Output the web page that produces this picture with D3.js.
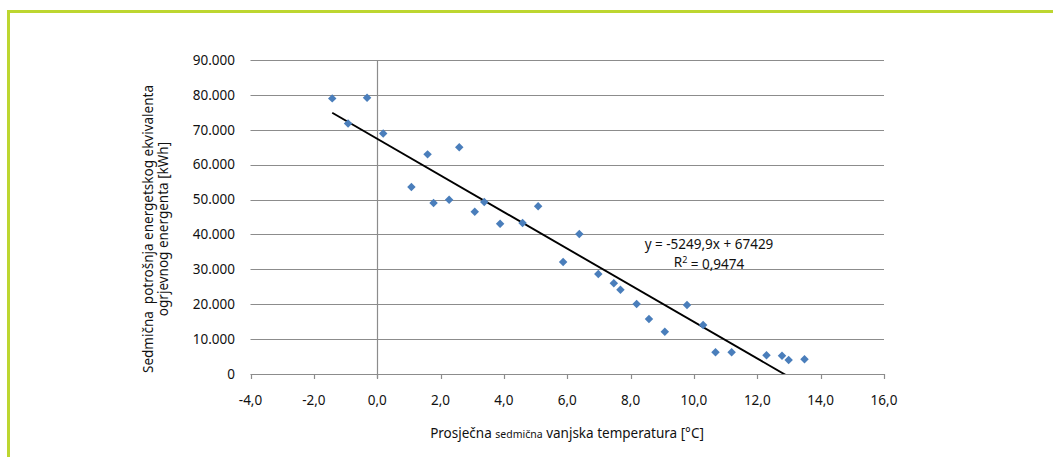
<!DOCTYPE html>
<html>
<head>
<meta charset="utf-8">
<script src="https://cdn.jsdelivr.net/npm/d3@7"></script>
<style>
  body { margin: 0; background: #fff; }
  text { font-family: "Noto Sans", "Open Sans", sans-serif; fill: #111; }
</style>
</head>
<body>
<div id="chart"></div>
<script>
// weekly mean outside temperature [°C]
var temps = [-1.42, -0.92, -0.32, 0.19, 1.08, 1.59, 1.78, 2.27, 2.59, 3.08,
  3.38, 3.88, 4.59, 5.08, 5.87, 6.38, 6.98, 7.47, 7.68, 8.19,
  8.58, 9.08, 9.78, 10.29, 10.68, 11.19, 12.29, 12.78, 12.99, 13.49];
// weekly energy consumption [kWh]
var energy = [79000, 71800, 79200, 68900, 53600, 62950, 49000, 49950, 65000, 46500,
  49300, 43070, 43270, 48050, 32090, 40100, 28650, 25990, 24160, 20060,
  15760, 12120, 19770, 14040, 6210, 6210, 5350, 5250, 4010, 4200];
var xTicks = [-4, -2, 0, 2, 4, 6, 8, 10, 12, 14, 16];
var yTicks = [0, 10000, 20000, 30000, 40000, 50000, 60000, 70000, 80000, 90000];
var slope = -5249.9, intercept = 67429;
var eqLabel = "y = -5249,9x + 67429";
var r2Label = "0,9474";

var W = 1053, H = 457;
var svg = d3.select("#chart").append("svg")
  .attr("width", W).attr("height", H);

// frame
svg.append("path")
  .attr("d", "M8.5,457 L8.5,11.5 L1053,11.5")
  .attr("fill", "none")
  .attr("stroke", "#bdd630")
  .attr("stroke-width", 3);

var x = d3.scaleLinear().domain([-4, 16]).range([250.5, 884]);
var y = d3.scaleLinear().domain([0, 90000]).range([374, 60]);

var fmtY = function (d) { return d === 0 ? "0" : d3.format(",")(d).replace(/,/g, "."); };
var fmtX = function (d) { return d.toFixed(1).replace(".", ","); };

// horizontal gridlines
svg.append("g").selectAll("line")
  .data(yTicks)
  .enter().append("line")
  .attr("x1", x(-4)).attr("x2", x(16))
  .attr("y1", function (d) { return Math.round(y(d)) + 0.5; })
  .attr("y2", function (d) { return Math.round(y(d)) + 0.5; })
  .attr("stroke", "#8c8c8c").attr("stroke-width", 1.2);

// vertical axis at x = 0
var x0 = Math.round(x(0)) + 0.5;
svg.append("line")
  .attr("x1", x0).attr("x2", x0)
  .attr("y1", y(90000)).attr("y2", y(0) + 4)
  .attr("stroke", "#8c8c8c").attr("stroke-width", 1.2);

// x ticks
svg.append("g").selectAll("line")
  .data(xTicks)
  .enter().append("line")
  .attr("x1", function (d) { return Math.round(x(d)) + 0.5; })
  .attr("x2", function (d) { return Math.round(x(d)) + 0.5; })
  .attr("y1", y(0)).attr("y2", y(0) + 5)
  .attr("stroke", "#8c8c8c").attr("stroke-width", 1.2);

// y tick labels
svg.append("g").selectAll("text")
  .data(yTicks)
  .enter().append("text")
  .attr("x", 235)
  .attr("y", function (d) { return y(d); })
  .attr("dy", "0.35em")
  .attr("text-anchor", "end")
  .style("font-size", "13.5px")
  .text(fmtY);

// x tick labels
svg.append("g").selectAll("text")
  .data(xTicks)
  .enter().append("text")
  .attr("x", function (d) { return x(d); })
  .attr("y", 400)
  .attr("dy", "0.35em")
  .attr("text-anchor", "middle")
  .style("font-size", "13.5px")
  .text(fmtX);

// trendline, clipped to the plot area
svg.append("clipPath").attr("id", "plotclip")
  .append("rect")
  .attr("x", x(-4)).attr("y", y(90000))
  .attr("width", x(16) - x(-4)).attr("height", y(0) - y(90000));

var xmin = d3.min(temps), xmax = d3.max(temps);
svg.append("line")
  .attr("clip-path", "url(#plotclip)")
  .attr("x1", x(xmin)).attr("y1", y(slope * xmin + intercept))
  .attr("x2", x(xmax)).attr("y2", y(slope * xmax + intercept))
  .attr("stroke", "#000").attr("stroke-width", 1.9);

// points
var pts = temps.map(function (t, i) { return { t: t, e: energy[i] }; });
svg.append("g").selectAll("path")
  .data(pts)
  .enter().append("path")
  .attr("d", d3.symbol().type(d3.symbolDiamond2).size(46))
  .attr("transform", function (d) { return "translate(" + x(d.t) + "," + y(d.e) + ")"; })
  .attr("fill", "#4a7ebb");

// equation
svg.append("text")
  .attr("x", 709).attr("y", 244).attr("dy", "0.35em")
  .attr("text-anchor", "middle")
  .style("font-size", "13.5px")
  .text(eqLabel);
var r2 = svg.append("text")
  .attr("x", 709).attr("y", 262).attr("dy", "0.35em")
  .attr("text-anchor", "middle")
  .style("font-size", "13.5px");
r2.append("tspan").text("R");
r2.append("tspan").attr("dy", "-0.45em").style("font-size", "9px").text("2");
r2.append("tspan").attr("dy", "0.45em").text(" = " + r2Label);

// x axis title
var xt = svg.append("text")
  .attr("x", 567).attr("y", 433).attr("dy", "0.35em")
  .attr("text-anchor", "middle")
  .style("font-size", "13.5px");
xt.append("tspan").text("Prosječna ");
xt.append("tspan").style("font-size", "10.5px").text("sedmična");
xt.append("tspan").text(" vanjska temperatura [°C]");

// y axis title (two lines)
var yt = svg.append("text")
  .attr("transform", "translate(148,229) rotate(-90)")
  .attr("text-anchor", "middle")
  .style("font-size", "13.5px");
yt.append("tspan").attr("x", 0).attr("dy", "0.35em")
  .text("Sedmična\u00a0 potrošnja energetskog ekvivalenta");
yt.append("tspan").attr("x", 0).attr("dy", "1.15em")
  .text("ogrjevnog energenta [kWh]");
</script>
</body>
</html>
